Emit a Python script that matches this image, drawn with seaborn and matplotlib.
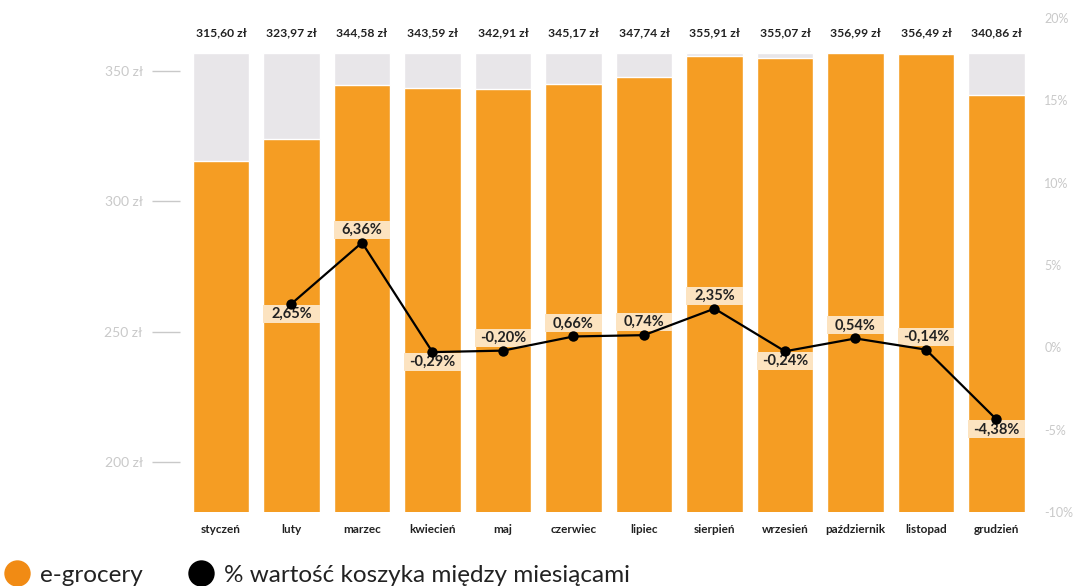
import pandas as pd
import numpy as np
import matplotlib.pyplot as plt
import seaborn as sns
from matplotlib.lines import Line2D
from matplotlib import transforms

# --- dane ---
miesiace = ['styczeń', 'luty', 'marzec', 'kwiecień', 'maj', 'czerwiec',
            'lipiec', 'sierpień', 'wrzesień', 'październik', 'listopad', 'grudzień']
koszyk = [315.60, 323.97, 344.58, 343.59, 342.91, 345.17,
          347.74, 355.91, 355.07, 356.99, 356.49, 340.86]
zmiana = [np.nan, 2.65, 6.36, -0.29, -0.20, 0.66,
          0.74, 2.35, -0.24, 0.54, -0.14, -4.38]
# gdzie stoi etykieta procentowa: nad punktem (1) albo pod (-1)
pozycja = [0, -1, 1, -1, 1, 1, 1, 1, -1, 1, 1, -1]

lewe_ticki = [200, 250, 300, 350]
prawe_ticki = [-10, -5, 0, 5, 10, 15, 20]

df = pd.DataFrame({'miesiac': miesiace, 'koszyk': koszyk, 'zmiana': zmiana})
df['tlo'] = df['koszyk'].max()
df['nr'] = np.arange(len(df))

POMARANCZ = '#F59D23'
SZARY = '#E8E6E9'
BEZ = '#FCE3C0'
TEKST = '#222222'
OS = '#C9C9C9'

sns.set_theme(style='white')
plt.rcParams['font.family'] = ['Lato', 'DejaVu Sans']

fig = plt.figure(figsize=(10.74, 5.86), dpi=100)
ax = fig.add_axes([0.17295, 0.12628, 0.78771, 0.843])

# --- słupki ---
sns.barplot(data=df, x='miesiac', y='tlo', order=miesiace, color=SZARY,
            saturation=1, width=0.8, ax=ax)
sns.barplot(data=df, x='miesiac', y='koszyk', order=miesiace, color=POMARANCZ,
            saturation=1, width=0.8, ax=ax)
ax.set_ylim(180.8, 370.3)
ax.set_xlim(-0.5, 11.5)
ax.set_yticks(lewe_ticki)
ax.set_yticklabels([f'{v} zł' for v in lewe_ticki])
ax.tick_params(axis='y', length=20, width=1, color=OS, labelcolor=OS,
               labelsize=10, pad=7, left=True)
ax.tick_params(axis='x', length=0, pad=9, labelsize=8.5, labelcolor=TEKST)
for t in ax.get_xticklabels():
    t.set_fontweight('bold')
ax.set_xlabel('')
ax.set_ylabel('')
for s in ax.spines.values():
    s.set_visible(False)
ax.spines['left'].set_position(('outward', 4))

# wartości nad słupkami
tr = transforms.blended_transform_factory(ax.transData, ax.transAxes)
for i, v in enumerate(koszyk):
    ax.text(i, 0.97, f'{v:.2f}'.replace('.', ',') + ' zł', transform=tr,
            ha='center', va='center', fontsize=8.7, fontweight='bold', color=TEKST)

# --- linia zmian % ---
ax2 = ax.twinx()
ax2.set_ylim(-10, 20)
ax2.set_xlim(-0.5, 11.5)
px = 30 / 494  # jednostki osi na piksel
for i in range(1, len(zmiana)):
    v = zmiana[i]
    if pozycja[i] > 0:
        y0 = v + 4 * px
    else:
        y0 = v - 1 * px - 18 * px
    ax2.add_patch(plt.Rectangle((i - 0.4, y0), 0.8, 18 * px, facecolor=BEZ,
                                edgecolor='none', zorder=2))
    ax2.text(i, y0 + 9 * px, f'{v:.2f}'.replace('.', ',') + '%', ha='center',
             va='center', fontsize=10.5, fontweight='bold', color=TEKST, zorder=3)

sns.lineplot(data=df.dropna(), x='nr', y='zmiana', color='black', linewidth=1.6,
             marker='o', markersize=7.5, markeredgewidth=0, ax=ax2, zorder=4)
ax2.set_yticks(prawe_ticki)
ax2.set_yticklabels([f'{v}%' for v in prawe_ticki])
ax2.tick_params(axis='y', length=0, labelcolor=OS, labelsize=9, pad=9)
ax2.set_xlabel('')
ax2.set_ylabel('')
for s in ax2.spines.values():
    s.set_visible(False)

# --- legenda ---
uchwyty = [Line2D([], [], linestyle='none', marker='o', markersize=19,
                  markerfacecolor='#F18B14', markeredgewidth=0),
           Line2D([], [], linestyle='none', marker='o', markersize=19,
                  markerfacecolor='black', markeredgewidth=0)]
fig.legend(uchwyty, ['e-grocery', '% wartość koszyka między miesiącami'],
           loc='center left', bbox_to_anchor=(5 / 1074, 1 - 575 / 586), ncol=2,
           frameon=False, prop={'size': 17.5},
           handlelength=1.0, handletextpad=0.45,
           columnspacing=1.9, borderaxespad=0, borderpad=0,
           labelcolor='#222222')

fig.savefig('out.png', dpi=100)
